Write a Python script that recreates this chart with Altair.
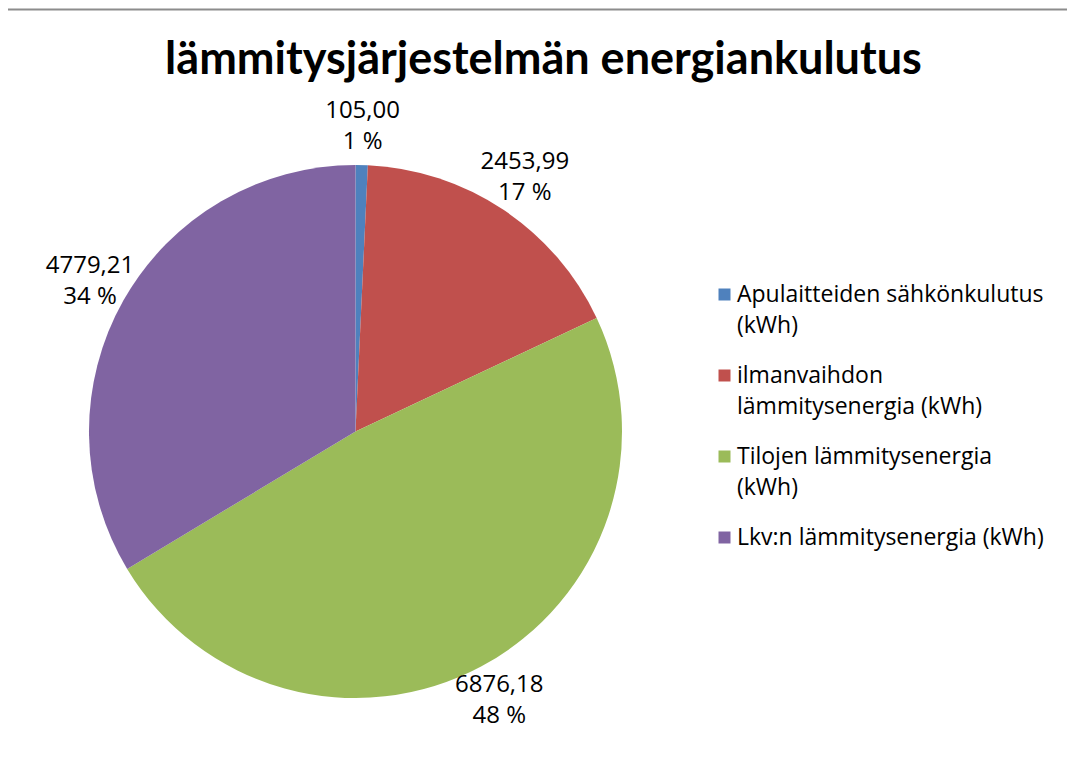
import altair as alt
import pandas as pd

# ---- data ----
categories = [
    "Apulaitteiden sähkönkulutus\n(kWh)",
    "ilmanvaihdon\nlämmitysenergia (kWh)",
    "Tilojen lämmitysenergia\n(kWh)",
    "Lkv:n lämmitysenergia (kWh)",
]
values = [105.00, 2453.99, 6876.18, 4779.21]
colors = ["#4F81BD", "#C0504D", "#9BBB59", "#8064A2"]
title_text = "lämmitysjärjestelmän energiankulutus"

total = sum(values)
value_labels = [f"{v:.2f}".replace(".", ",") for v in values]
pct_labels = [f"{round(v / total * 100)} %" for v in values]

df = pd.DataFrame({
    "cat": categories,
    "value": values,
    "order": list(range(len(values))),
    "label": [f"{a}\n{b}" for a, b in zip(value_labels, pct_labels)],
})

CX, CY, R = 347.5, 423.5, 266.5

base = alt.Chart(df)

pie = base.mark_arc(radius=R).encode(
    theta=alt.Theta("value:Q", stack=True),
    order=alt.Order("order:Q"),
    color=alt.Color(
        "cat:N",
        sort=categories,
        scale=alt.Scale(domain=categories, range=colors),
        legend=alt.Legend(
            title=None,
            orient="none",
            legendX=705,
            legendY=275,
            symbolType="square",
            symbolSize=144,
            symbolStrokeWidth=0,
            labelFont="Open Sans",
            labelFontSize=23,
            labelColor="#000000",
            labelOffset=1,
            labelLimit=500,
            labelBaseline="middle",
            labelExpr="split(datum.label, '\\n')",
            rowPadding=26,
            padding=0,
        ),
    ),
    x=alt.value(CX),
    y=alt.value(CY),
)

labels = base.mark_text(
    radius=305, dy=-15.5, font="Open Sans", fontSize=24, color="#000000",
    align="center", baseline="middle", lineBreak="\n", lineHeight=31,
).encode(
    theta=alt.Theta("value:Q", stack=True),
    order=alt.Order("order:Q"),
    text="label:N",
    x=alt.value(CX),
    y=alt.value(CY),
)

one = pd.DataFrame({"k": [0]})
top_border = alt.Chart(one).mark_rule(color="#8c8c8c", strokeWidth=2).encode(
    x=alt.value(-2.5), x2=alt.value(1070), y=alt.value(1.5)
)
left_border = alt.Chart(one).mark_rule(color="#8c8c8c", strokeWidth=2).encode(
    x=alt.value(-2.5), y=alt.value(1.5), y2=alt.value(760)
)

chart = alt.layer(top_border, left_border, pie, labels).properties(
    width=1059,
    height=744,
    padding=0,
    autosize=alt.AutoSizeParams(type="none"),
    title=alt.TitleParams(
        title_text, font="Lato", fontSize=45, fontWeight="bold", color="#000000",
        anchor="middle", frame="group", offset=-111, baseline="alphabetic", dx=6,
    ),
).configure(
    background="#ffffff",
    style={"guide-label": {"lineHeight": 31}},
).configure_view(stroke=None)

chart.save("out.html", embed_options={"renderer": "svg", "actions": False})
